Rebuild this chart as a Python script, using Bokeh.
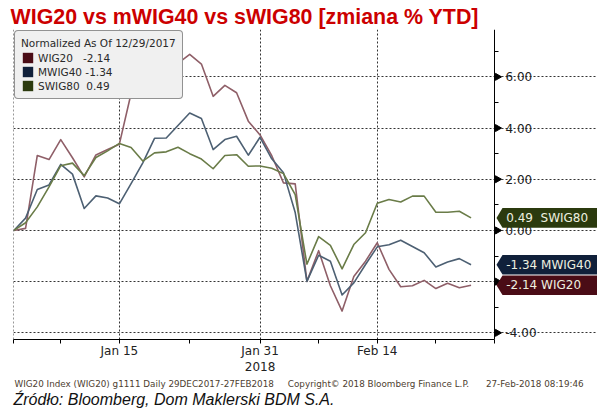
import numpy as np
from bokeh.plotting import figure
from bokeh.models import (Range1d, FixedTicker, PrintfTickFormatter, Legend, LegendItem, Title)
from bokeh.core.properties import value
from bokeh.embed import file_html
from bokeh.resources import INLINE

# ---------------- data ----------------
series_names = ["WIG20", "MWIG40", "SWIG80"]
day_index = list(range(40))   # trading-day index, 0 = 29 Dec 2017

wig20 = [0.00, 0.08, 2.93, 2.77, 3.55, 2.84, 2.09, 2.95, 3.16, 3.37,
         5.35, 5.66, 5.31, 5.72, 6.53, 6.88, 6.50, 5.24, 5.67, 5.38,
         4.27, 3.73, 2.92, 1.86, 1.82, -1.99, -0.79, -2.16, -3.15, -1.80,
         -1.20, -0.48, -1.52, -2.20, -2.16, -1.95, -2.27, -2.06, -2.24, -2.14]
mwig40 = [0.00, 0.48, 1.60, 1.78, 2.58, 2.20, 0.86, 1.35, 1.27, 1.04,
          1.83, 2.64, 3.60, 3.61, 4.10, 4.59, 4.37, 3.16, 3.55, 3.68,
          2.94, 3.64, 2.80, 2.25, 0.70, -1.99, -0.97, -1.20, -2.52, -2.05,
          -1.33, -0.64, -0.56, -0.38, -0.63, -0.87, -1.43, -1.23, -1.10, -1.34]
swig80 = [0.00, 0.30, 0.92, 1.70, 2.53, 2.63, 2.14, 2.85, 3.11, 3.40,
          3.24, 2.71, 3.03, 3.07, 3.25, 3.00, 2.79, 2.41, 2.93, 2.96,
          2.51, 2.52, 2.43, 2.22, 1.40, -1.32, -0.24, -0.58, -1.50, -0.55,
          -0.09, 1.06, 1.21, 1.11, 1.34, 1.34, 0.71, 0.71, 0.75, 0.49]
last_values = [-2.14, -1.34, 0.49]

x_ticks = [0, 4, 9, 15, 21, 26, 31, 36, 41]
x_tick_labels = {9: "Jan 15", 21: "Jan 31\n2018", 31: "Feb 14"}
x_grid_ticks = [0, 9, 21, 31]
y_ticks = [-4, -2, 0, 2, 4, 6]
y_minor_ticks = [-3, -1, 1, 3, 5, 7]

title_text = "WIG20 vs mWIG40 vs sWIG80 [zmiana % YTD]"
legend_title = "Normalized As Of 12/29/2017"
footer_left = "WIG20 Index (WIG20) g1111  Daily 29DEC2017-27FEB2018"
footer_mid = "Copyright\u00a9 2018 Bloomberg Finance L.P."
footer_right = "27-Feb-2018 08:19:46"
source_text = "\u0179r\u00f3d\u0142o: Bloomberg, Dom Maklerski BDM S.A."

# ---------------- styles / geometry ----------------
line_colors = ["#8f5f68", "#4d6073", "#6a7c48"]
dark_colors = ["#4a0c16", "#10203a", "#2b3a0e"]
AXFONT = "DejaVu Sans"
X_END = 41            # position of the value axis (end of the time axis)
PX_X = 11.723         # pixels per trading day
FW, FH = 584, 310
X0 = -0.03
X1 = X0 + FW / PX_X
Y0, Y1 = -4.26, 7.85
PX_Y = FH / (Y1 - Y0)

p = figure(frame_width=FW, frame_height=FH,
           min_border_left=13, min_border_right=0, min_border_top=29, min_border_bottom=70,
           x_range=Range1d(X0, X1), y_range=Range1d(Y0, Y1),
           y_axis_location="right", output_backend="svg", toolbar_location=None,
           background_fill_color="white", border_fill_color="white")
p.outline_line_color = None

# title above
p.title = Title(text=title_text, text_font="Liberation Sans", text_font_style="bold",
                text_font_size="21.4px", text_color="#cc0000", align="left",
                offset=-3, standoff=1, vertical_align="bottom")

for g in (p.xgrid, p.ygrid):
    g.grid_line_color = "#333333"
    g.grid_line_dash = "2 2"
    g.grid_line_width = 1
p.xgrid.ticker = FixedTicker(ticks=x_grid_ticks)
p.ygrid.ticker = FixedTicker(ticks=y_ticks)

xa = p.xaxis[0]
xa.ticker = FixedTicker(ticks=x_ticks)
overrides = {t: "" for t in x_ticks}
overrides.update(x_tick_labels)
xa.major_label_overrides = overrides
xa.bounds = (X0, X_END)
xa.axis_line_color = "black"
xa.major_tick_line_color = "black"
xa.major_tick_out = 4
xa.major_tick_in = 0
xa.minor_tick_line_color = None
xa.major_label_standoff = 0
xa.major_label_text_font = AXFONT
xa.major_label_text_font_size = "12px"
xa.major_label_text_color = "#222222"

ya = p.yaxis[0]
ya.fixed_location = X_END
ya.ticker = FixedTicker(ticks=y_ticks, minor_ticks=y_minor_ticks)
ya.formatter = PrintfTickFormatter(format="%.2f")
ya.axis_line_color = "black"
ya.major_tick_line_color = "black"
ya.major_tick_out = 6
ya.major_tick_in = 0
ya.minor_tick_line_color = "black"
ya.minor_tick_out = 4
ya.minor_tick_in = 0
ya.major_label_standoff = 5
ya.major_label_text_font = AXFONT
ya.major_label_text_font_size = "12px"
ya.major_label_text_color = "#222222"

# white mask so the horizontal grid stops at the value axis
p.quad(left=[X_END], right=[X1 + 1], bottom=[Y0 - 1], top=[Y1 + 1],
       fill_color="white", line_color=None, level="underlay")

all_series = [wig20, mwig40, swig80]
for vals, col in zip(all_series, line_colors):
    p.line(day_index, vals, line_color=col, line_width=1.6, line_join="round")

# arrow-shaped tick marks on the value axis
p.scatter(x=[X_END + 3.0 / PX_X] * len(y_ticks), y=y_ticks, marker="triangle",
          angle=-np.pi / 2, size=7, fill_color="black", line_color="black", level="overlay")

# value tags on the right
tip, body = X_END + 2 / PX_X, X_END + 8 / PX_X
hh = 9.8 / PX_Y
tag_xs = [[tip, body, X1 + 1, X1 + 1, body] for v in last_values]
tag_ys = [[v, v + hh, v + hh, v - hh, v - hh] for v in last_values]
p.patches(tag_xs, tag_ys, fill_color=dark_colors, line_color=None, level="overlay")
tag_texts = ["%.2f\u00a0WIG20" % last_values[0], "%.2f\u00a0MWIG40" % last_values[1],
             "%.2f\u00a0\u00a0SWIG80" % last_values[2]]
p.text(x=[X_END + 11.7 / PX_X] * 3, y=last_values, text=tag_texts, text_baseline="middle",
       text_font=value(AXFONT), text_font_size="12px", text_color="#eef0e0", level="overlay")

# legend swatches: square renderers with a point outside the visible range
items = []
legend_labels = ["WIG20\u00a0\u00a0\u00a0%.2f", "MWIG40\u00a0%.2f", "SWIG80\u00a0\u00a0%.2f"]
for lab, val, dc in zip(legend_labels, last_values, dark_colors):
    r = p.rect(x=[-100], y=[-100], width=1, height=1, fill_color=dc, line_color=None)
    items.append(LegendItem(label=lab % val, renderers=[r]))

legend = Legend(items=items, title=legend_title, location="top_left", margin=1,
                padding=6, spacing=1, glyph_height=13, glyph_width=13, label_height=13,
                label_standoff=4, title_standoff=2,
                label_text_font=AXFONT, label_text_font_size="10.5px", label_text_color="#2a2a2a",
                title_text_font=AXFONT, title_text_font_size="10.5px", title_text_font_style="normal",
                title_text_color="#2a2a2a",
                background_fill_color="#f0f0f0", background_fill_alpha=1.0,
                border_line_color="#333333", border_line_width=1)
try:
    legend.border_radius = 4
except Exception:
    pass
p.add_layout(legend)

# footers below
NB = "\u00a0"
footer_line = footer_left + NB * 5 + footer_mid + NB * 6 + footer_right
p.add_layout(Title(text=footer_line, text_font=AXFONT, text_font_size="8.8px",
                   text_font_style="normal", text_color="#4d4030", align="left", offset=1,
                   standoff=0, vertical_align="middle"), "below")
p.add_layout(Title(text=source_text, text_font="Liberation Sans", text_font_style="italic",
                   text_font_size="16px", text_color="#111111", align="left", offset=0,
                   standoff=0, vertical_align="middle"), "below")

open("out.html", "w").write(file_html(p, INLINE))
